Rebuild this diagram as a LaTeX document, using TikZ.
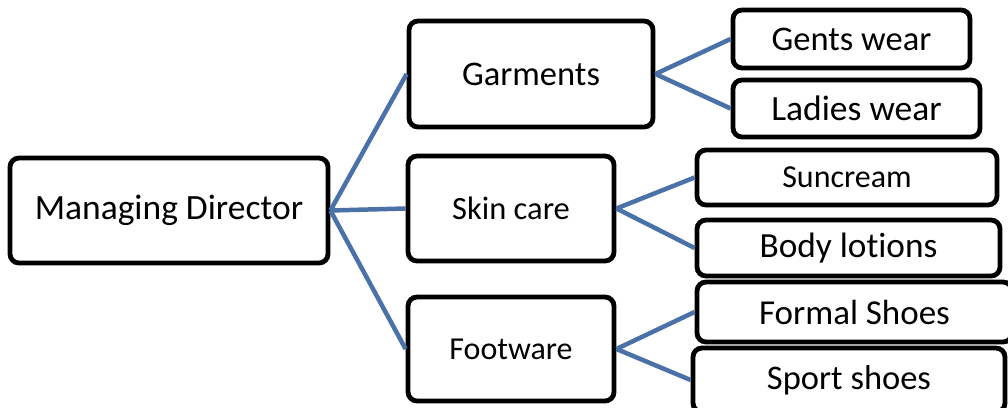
\documentclass[tikz,border=0pt]{standalone}
\usepackage{fontspec}
\setmainfont[Ligatures=NoCommon]{Carlito}
\definecolor{linkblue}{RGB}{74,114,168}
\tikzset{
  box/.style={draw=black, line width=4.8pt, rounded corners=9pt, fill=white, inner sep=0pt, anchor=center, align=center},
  link/.style={draw=linkblue, line width=4.5pt},
}
\begin{document}
\begin{tikzpicture}[x=1pt,y=-1pt]
\useasboundingbox (0,0) rectangle (1008,407);
\node[box, minimum width=318pt, minimum height=105pt, font=\fontsize{35.5}{40}\selectfont] (md) at (169,210.5) {Managing Director};
\node[box, minimum width=244pt, minimum height=106pt, font=\fontsize{34.5}{38}\selectfont] (gar) at (531,74) {Garments};
\node[box, minimum width=206pt, minimum height=105pt, font=\fontsize{32.5}{36}\selectfont] (skin) at (511,208.5) {Skin care};
\node[box, minimum width=206pt, minimum height=104pt, font=\fontsize{32}{36}\selectfont] (foot) at (511,349) {Footware};
\node[box, minimum width=237pt, minimum height=58pt, font=\fontsize{34.5}{38}\selectfont] (gents) at (851.5,39) {Gents wear};
\node[box, minimum width=247pt, minimum height=57pt, font=\fontsize{35.5}{38}\selectfont] (ladies) at (856.5,108.5) {Ladies wear};
\node[box, minimum width=300pt, minimum height=55pt, font=\fontsize{32}{36}\selectfont] (sun) at (847,177.5) {Suncream};
\node[box, minimum width=303pt, minimum height=56pt, font=\fontsize{35.3}{38}\selectfont] (body) at (848.5,248) {Body lot\kern0pt ions};
\node[box, minimum width=315pt, minimum height=60pt, font=\fontsize{35}{38}\selectfont] (formal) at (854.5,312) {Formal Shoes};
\node[box, minimum width=312pt, minimum height=64pt, font=\fontsize{34.5}{38}\selectfont] (sport) at (849,380) {Sport shoes};
\draw[link] (md.east) -- (gar.west);
\draw[link] (md.east) -- (skin.west);
\draw[link] (md.east) -- (foot.west);
\draw[link] (gar.east) -- (gents.west);
\draw[link] (gar.east) -- (ladies.west);
\draw[link] (skin.east) -- (sun.west);
\draw[link] (skin.east) -- (body.west);
\draw[link] (foot.east) -- (formal.west);
\draw[link] (foot.east) -- (sport.west);
\end{tikzpicture}
\end{document}
